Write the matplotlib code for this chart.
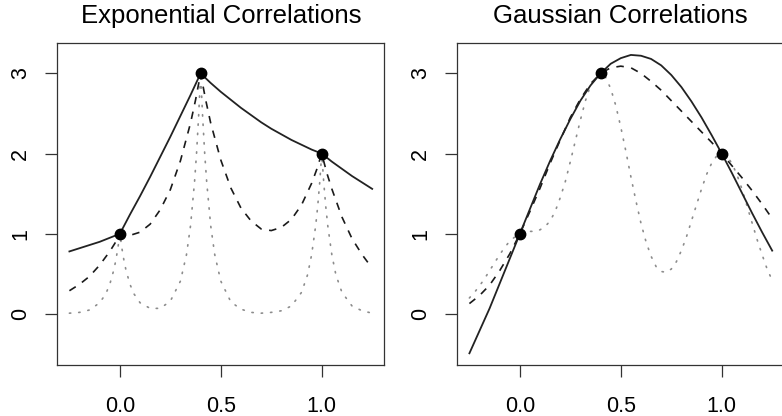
import matplotlib
matplotlib.use("Agg")
import matplotlib.pyplot as plt

plt.rcParams['font.family'] = ['Liberation Sans', 'DejaVu Sans']

# observed points
obs_x = [0, 0.4, 1]
obs_y = [1, 3, 2]

# exponential correlations
exp_solid_x = [-0.25, -0.2, -0.15, -0.1, -0.05, 0, 0.05, 0.1, 0.15, 0.2, 0.25, 0.3, 0.35, 0.4,
               0.45, 0.5, 0.55, 0.6, 0.65, 0.7, 0.75, 0.8, 0.85, 0.9, 0.95, 1,
               1.05, 1.1, 1.15, 1.2, 1.25]
exp_solid_y = [0.78, 0.82, 0.86, 0.90, 0.95, 1.00, 1.24, 1.47, 1.71, 1.96, 2.21, 2.47, 2.73, 3.00,
               2.88, 2.77, 2.67, 2.57, 2.48, 2.39, 2.31, 2.24, 2.17, 2.11, 2.05, 2.00,
               1.90, 1.81, 1.72, 1.64, 1.56]

exp_dashed_x = [-0.25, -0.2, -0.15, -0.1, -0.05, -0.025, 0, 0.025, 0.05, 0.1, 0.15, 0.2, 0.25, 0.3,
                0.35, 0.375, 0.4, 0.425, 0.45, 0.5, 0.55, 0.6, 0.65, 0.7, 0.75, 0.8, 0.85, 0.9,
                0.95, 0.975, 1, 1.025, 1.05, 1.1, 1.15, 1.2, 1.25]
exp_dashed_y = [0.29, 0.37, 0.47, 0.61, 0.78, 0.88, 1.00, 0.98, 0.98, 1.02, 1.12, 1.30, 1.55, 1.91,
                2.38, 2.67, 3.00, 2.67, 2.38, 1.92, 1.57, 1.32, 1.16, 1.06, 1.04, 1.08, 1.18, 1.36,
                1.63, 1.80, 2.00, 1.76, 1.56, 1.21, 0.94, 0.74, 0.57]

exp_dotted_x = [-0.25, -0.2, -0.15, -0.1, -0.07, -0.05, -0.03, -0.02, -0.01, 0, 0.01, 0.02, 0.03,
                0.05, 0.07, 0.1, 0.15, 0.2, 0.25, 0.3, 0.33, 0.35, 0.37, 0.38, 0.39, 0.4, 0.41,
                0.42, 0.43, 0.45, 0.47, 0.5, 0.55, 0.6, 0.65, 0.7, 0.75, 0.8, 0.85, 0.9, 0.93,
                0.95, 0.97, 0.98, 0.99, 1, 1.01, 1.02, 1.03, 1.05, 1.07, 1.1, 1.15, 1.2, 1.25]
exp_dotted_y = [0.01, 0.02, 0.05, 0.14, 0.25, 0.37, 0.55, 0.67, 0.82, 1.00, 0.82, 0.67, 0.55,
                0.37, 0.25, 0.14, 0.07, 0.07, 0.16, 0.41, 0.74, 1.10, 1.65, 2.01, 2.46, 3.00, 2.46,
                2.01, 1.65, 1.10, 0.74, 0.41, 0.15, 0.06, 0.02, 0.01, 0.02, 0.04, 0.10, 0.27, 0.49,
                0.74, 1.10, 1.34, 1.64, 2.00, 1.64, 1.34, 1.10, 0.74, 0.49, 0.27, 0.10, 0.04, 0.01]

# gaussian correlations
gau_x = [-0.25, -0.2, -0.15, -0.1, -0.05, 0, 0.05, 0.1, 0.15, 0.2, 0.25, 0.3, 0.35, 0.4,
         0.45, 0.5, 0.55, 0.6, 0.65, 0.7, 0.75, 0.8, 0.85, 0.9, 0.95, 1,
         1.05, 1.1, 1.15, 1.2, 1.25]
gau_solid_y = [-0.49, -0.21, 0.07, 0.38, 0.69, 1.00, 1.31, 1.62, 1.91, 2.18, 2.43, 2.66, 2.85, 3.00,
               3.12, 3.19, 3.23, 3.22, 3.18, 3.10, 2.98, 2.83, 2.65, 2.45, 2.23, 2.00,
               1.76, 1.51, 1.26, 1.02, 0.79]
gau_dashed_y = [0.13, 0.23, 0.36, 0.54, 0.75, 1.00, 1.28, 1.57, 1.88, 2.17, 2.45, 2.68, 2.87, 3.00,
                3.07, 3.09, 3.07, 3.00, 2.90, 2.79, 2.66, 2.53, 2.40, 2.27, 2.14, 2.00,
                1.85, 1.70, 1.54, 1.37, 1.19]

gau_dotted_x = [-0.25, -0.225, -0.2, -0.175, -0.15, -0.125, -0.1, -0.075, -0.05, -0.025,
                0, 0.025, 0.05, 0.075, 0.1, 0.125, 0.15, 0.175, 0.2, 0.225,
                0.25, 0.275, 0.3, 0.325, 0.35, 0.375, 0.4, 0.425, 0.45, 0.475,
                0.5, 0.525, 0.55, 0.575, 0.6, 0.625, 0.65, 0.675, 0.7, 0.725,
                0.75, 0.775, 0.8, 0.825, 0.85, 0.875, 0.9, 0.925, 0.95, 0.975,
                1, 1.025, 1.05, 1.075, 1.1, 1.125, 1.15, 1.175, 1.2, 1.225, 1.25]
gau_dotted_y = [0.20, 0.27, 0.35, 0.44, 0.54, 0.64, 0.74, 0.83, 0.91, 0.96,
                1.00, 1.02, 1.03, 1.03, 1.05, 1.09, 1.16, 1.28, 1.45, 1.65,
                1.90, 2.16, 2.42, 2.66, 2.85, 2.96, 3.00, 2.95, 2.81, 2.60,
                2.33, 2.03, 1.71, 1.41, 1.13, 0.90, 0.72, 0.59, 0.53, 0.52,
                0.56, 0.65, 0.79, 0.96, 1.16, 1.36, 1.56, 1.74, 1.88, 1.97,
                2.00, 1.97, 1.88, 1.74, 1.56, 1.35, 1.14, 0.93, 0.74, 0.56, 0.42]

panels = [
    ("Exponential Correlations", (exp_solid_x, exp_solid_y), (exp_dashed_x, exp_dashed_y),
     (exp_dotted_x, exp_dotted_y)),
    ("Gaussian Correlations", (gau_x, gau_solid_y), (gau_x, gau_dashed_y),
     (gau_dotted_x, gau_dotted_y)),
]

fig = plt.figure(figsize=(7.82, 4.16), dpi=100)
lefts = [57.3 / 782, 457.3 / 782]

for left, (title, solid, dashed, dotted) in zip(lefts, panels):
    ax = fig.add_axes([left, 51 / 416, 327 / 782, 321.7 / 416])
    ax.plot(*dotted, color='#8c8c8c', lw=1.2, dashes=(0.8, 4.8), dash_capstyle='round')
    ax.plot(*dashed, color='#1a1a1a', lw=1.2, dashes=(4.5, 4.5))
    ax.plot(*solid, color='#222222', lw=1.3)
    ax.plot(obs_x, obs_y, 'o', color='black', markersize=7.5)

    ax.set_xlim(-0.31, 1.31)
    ax.set_ylim(-0.636, 3.375)
    ax.set_xticks([0, 0.5, 1.0])
    ax.set_xticklabels(['0.0', '0.5', '1.0'])
    ax.set_yticks([0, 1, 2, 3])
    ax.set_yticklabels(['0', '1', '2', '3'], rotation=90, va='center')
    ax.tick_params(axis='x', length=8.9, width=0.9, color='#333333', pad=13.3,
                   labelsize=15.5)
    ax.tick_params(axis='y', length=8.9, width=0.9, color='#333333', pad=10,
                   labelsize=15.5)
    for sp in ax.spines.values():
        sp.set_color('#333333')
        sp.set_linewidth(0.9)
    ax.set_title(title, fontsize=18.5, pad=14.4)

fig.savefig('out.png', dpi=100)
